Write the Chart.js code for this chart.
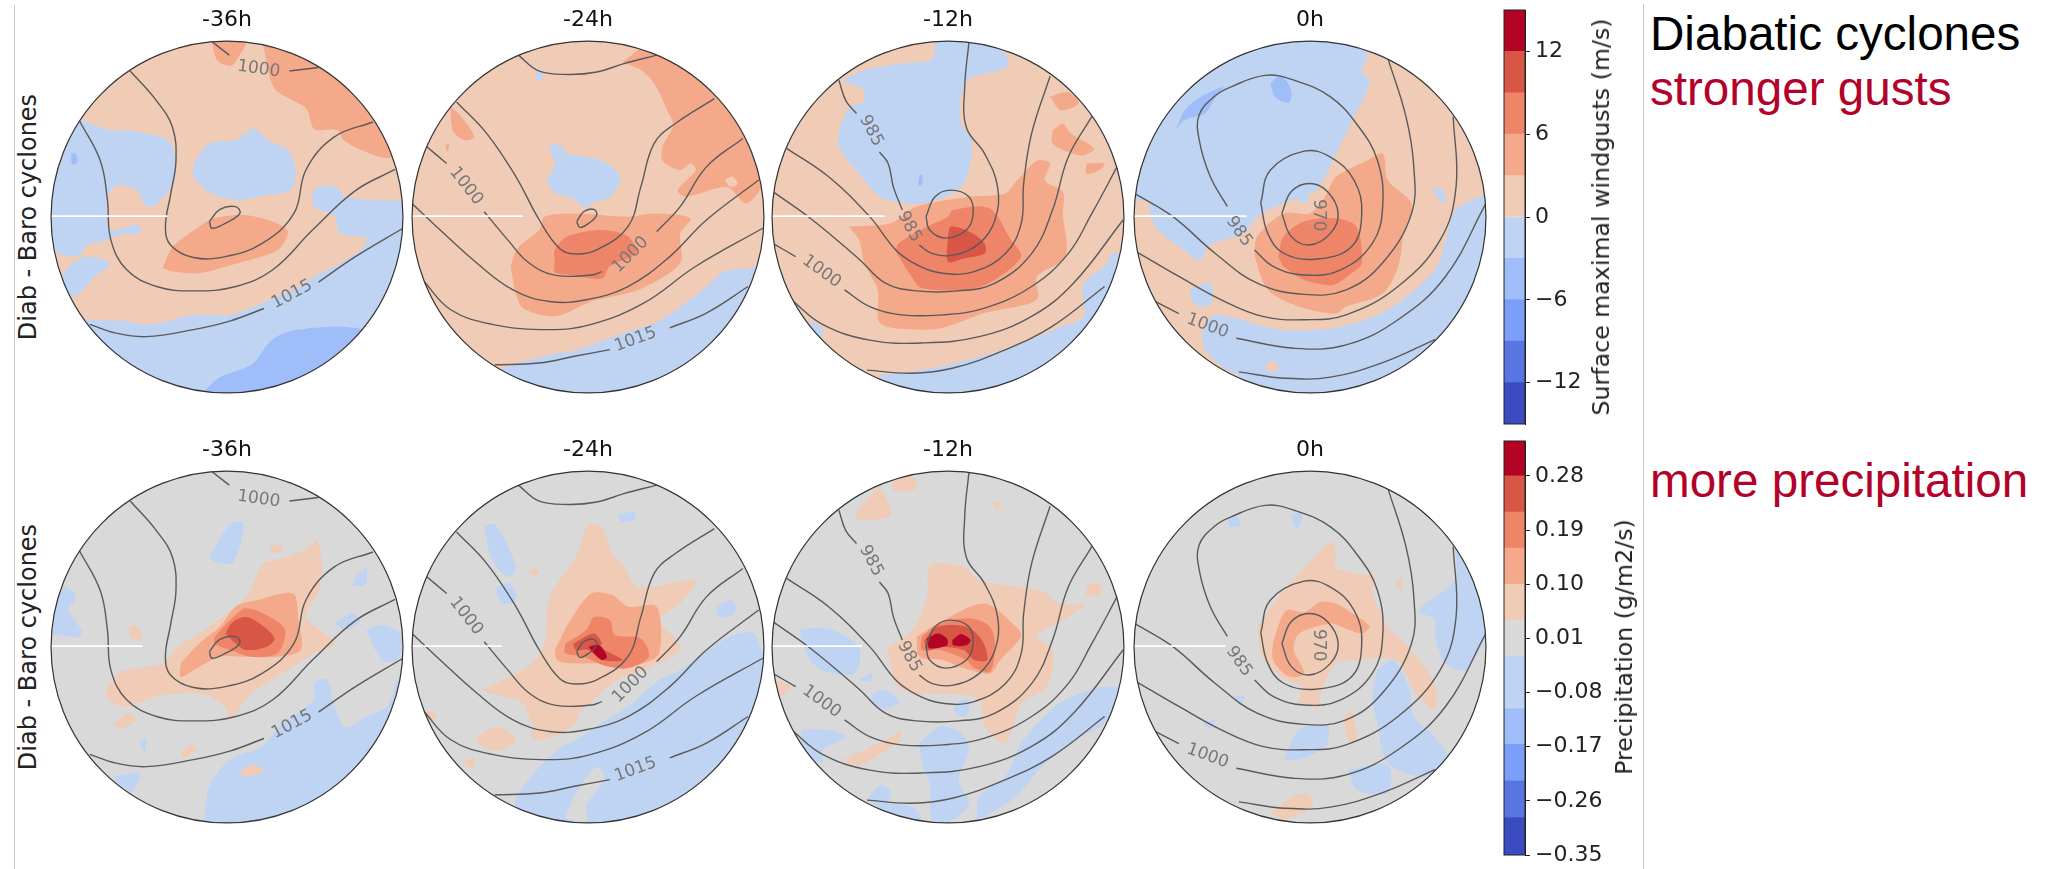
<!DOCTYPE html>
<html>
<head>
<meta charset="utf-8">
<title>Diab - Baro cyclones</title>
<script src="https://cdn.jsdelivr.net/npm/chart.js@4/dist/chart.umd.js"></script>
<style>
  html, body { margin: 0; background: #fff; }
  body { position: relative; width: 2049px; height: 869px; overflow: hidden; font-family: "DejaVu Sans", sans-serif; }
  canvas { position: absolute; }
  .vrule { position: absolute; width: 1px; background: #c8c8c8; }
  .side { position: absolute; white-space: nowrap; color: #222; transform: translate(-50%, -50%) rotate(-90deg); }
  .note { position: absolute; left: 1650px; white-space: nowrap; font-family: "Liberation Sans", sans-serif; font-size: 47.6px; line-height: 1; color: #b2022a; }
</style>
</head>
<body>
<script>
// panel coordinates are percent of the map radius, centre = cyclone, flat x,y lists
const hours = ['-36h', '-24h', '-12h', '0h'];

const gustBounds = [-15, -12, -9, -6, -3, 0, 3, 6, 9, 12, 15];
const gustColors = ['#3b4cc0', '#5875e1', '#7b9ff9', '#9ebdf9', '#bfd3f3', '#f0ccb6', '#f5a98b', '#ee8468', '#d85646', '#b40426'];
const gustTicks = [-12, -6, 0, 6, 12];

const precipBounds = [-0.35, -0.288, -0.227, -0.166, -0.107, -0.02, 0.04, 0.10, 0.16, 0.22, 0.28, 0.338];
const precipColors = ['#3b4cc0', '#5875e1', '#7b9ff9', '#9ebdf9', '#bfd3f3', '#d9d9d9', '#f0ccb6', '#f5a98b', '#ee8468', '#d85646', '#b40426'];
const precipTicks = [-0.35, -0.26, -0.17, -0.08, 0.01, 0.10, 0.19, 0.28];

// sea level pressure contours, same in both rows
const isobars36 = [
  [-10,-2.6, -4,4.3, 4.9,5.9, 7.3,2.1, -1,-3.6, -8.5,-6.4, -10,-2.6],
  [-9,100, 1.3,92],
  [35.5,83, 52,85],
  [-55,83, -40,66, -31,51, -29,32, -32,13, -35,-5.5, -32,-16, -19,-23, -1,-22.5, 20,-15, 38,2, 45,27, 61,45.5, 83,54],
  [-84,55, -72,32, -68,10, -66,-13, -57,-30, -40,-39.5, -19,-42, 5,-39.5, 26,-30, 49,-7, 73,15, 95.5,27],
  [-78,-61, -63,-66, -46,-68, -19,-64, 2,-59, 21,-52],
  [52,-37, 73,-22.5, 100,-6.4]
];
const isobars24 = [
  [-6.4,-2.6, -2.5,3, 3.4,4.3, 4.9,1, 0.4,-3.6, -4.6,-5.9, -6.4,-2.6],
  [-39.6,92, -28,83, -11.4,81, 5,82.4, 20,87, 39,92],
  [-74.7,65.4, -57.5,47.4, -41,23, -27.7,-1.7, -16,-18, -7,-21, 5,-18.7, 22.7,-5.5, 30,17, 37.6,41.8, 49.5,53, 71.8,67.3],
  [-91.6,39.9, -80.3,30.4],
  [-59,3, -45.6,-13, -33.7,-26, -19,-33, 2,-33, 7.9,-31],
  [39,-8.3, 52.4,5.9, 67.3,28.5, 88,44.6],
  [-100,7.7, -84,-7.4, -63.4,-26, -42.6,-41.4, -21.8,-48, -1,-47, 22.7,-39.5, 46.5,-22.5, 67.3,-1.7, 97,21],
  [-94,-35.7, -78,-52.7, -54.5,-61, -21.8,-64, 1.9,-61, 31.6,-49, 61.3,-28, 99.3,-6.4],
  [-53,-84, -27.8,-83, -7,-79, 12.4,-75.4],
  [46.5,-63, 67.3,-54.6, 91,-39.5]
];
const isobars12 = [
  [-12.5,0.2, -7.4,11.5, 1.5,15.3, 11.9,11.5, 14.3,2, 10.4,-7.4, -1.5,-12, -10.4,-7.4, -12.5,0.2],
  [11.9,99.4, 9.5,74, 10.4,51, 20.8,36, 28.2,17, 26.7,-1.7, 17.8,-15, 3,-21.7, -8.9,-20.8, -16.3,-16],
  [-26,4, -31,17, -34,30.4, -39,37],
  [-52,58.8, -58,66, -62,77.7],
  [-91.7,39, -68,23, -44.5,0.2, -29.7,-18.7, -17.8,-27, -3,-32, 14.8,-31, 32.7,-20.8, 41.6,-3.6, 43,19, 47.5,47.4, 58,80],
  [-99.5,14.4, -77,-1.7, -50.5,-24, -35.6,-37.6, -17.8,-42, 6,-42, 26.7,-37.6, 47.5,-20.8, 59.4,4, 68.3,34, 81.7,57],
  [-99.5,-15, -86.6,-22.5],
  [-58.8,-41.4, -44.5,-50.9, -26.7,-55.6, -3,-55.6, 20.8,-51.8, 47.5,-39.5, 68.3,-20.8, 81.7,1.9, 96.5,29.3],
  [-89,-47, -71.3,-61, -44.5,-70, -14.9,-71.6, 17.8,-68, 47.5,-56.5, 71.3,-37.6, 99.5,-1.7],
  [-46,-87, -20.8,-88.8, 3,-85.8, 32.7,-75.4, 59.4,-62, 89,-39.5]
];
const isobars0 = [
  [-16,2, -10.7,14.3, -0.3,19, 10,14.3, 16,2, 11.6,-9.3, -0.3,-15.9, -10.7,-11, -16,2],
  [-28,8, -22.6,26.6, -3.3,37.4, 11.6,34, 25,21, 29.4,2, 23.5,-17, 2.7,-24, -15,-20.6, -24,-9.3, -28,8],
  [-47,6, -56.7,23, -63,44, -63,58, -53.7,69, -44.8,74, -25.5,80.5, -9,77.7, 11.6,68.3, 26.4,53, 38.3,32.3, 41.3,5.9, 35.4,-15, 17.5,-30, -3.3,-33, -21,-28, -31.5,-18.7],
  [-99,13, -77.9,0.2, -54,-20.6, -30,-37.6, -3.3,-44, 20.5,-41.4, 41.3,-26, 57.7,2, 59,28.5, 54.6,56.8, 44.3,90],
  [-99,-19.5, -74.5,-33.8, -50.7,-47, -27,-56.5, -3.3,-58.4, 20.5,-55.6, 50,-39.5, 74,-13, 83,17, 81.4,57],
  [-92.7,-45.5, -74.5,-54.9],
  [-41.9,-68.9, -9.2,-74.6, 20.5,-72.7, 50,-58.4, 77,-33.8, 100,7.7],
  [-40.4,-88, -15,-91.6, 11.6,-91, 41.3,-82.8, 71,-69.7]
];

// contour labels: text, x, y, rotation in degrees
const labels36 = [['1000',18,84,8], ['1015',37,-44,-28]];
const labels24 = [['1000',-69.3,17.6,52], ['1000',24.2,-21.5,-45], ['1015',27,-69.7,-20]];
const labels12 = [['985',-22,-5.5,62], ['985',-43.7,49,62], ['1000',-71.9,-31,36]];
const labels0 = [['970',5,1,90], ['985',-40.4,-8.3,55], ['1000',-58.2,-62,20]];

// white stub along the left of each map, ends at this x
const stubTop = [-34, -37, -36, -36];
const stubBottom = [-48, -49, -49, -48];

// filled patches: representative value, outline. Value picks the colour bin.
const gust36 = [
  [-1.5, [-79.7,-58.4, -60.4,-59, -42.6,-61, -18.9,-55.6, 1.9,-55.6, 19.7,-49, 37.6,-41.4, 49.5,-33.8, 64.3,-26.3, 76.2,-18.7, 79,-12, 64.3,-9.3, 61.3,0.2, 49.5,5.9, 49.5,15.3, 61.3,17.6, 67.3,11.5, 85,9.6, 100,7.7, 115,-20, 90,-85, 0,-112, -85,-85]],
  [-1.5, [-84,56, -69,50, -51.5,48.4, -33.7,43.7, -29,32.3, -30.7,19, -39.6,7.7, -45.6,5.9, -51.5,15.3, -62,18, -68,11.5, -68,0.2, -66.4,-7.4, -50,-4.5, -50,-9.3, -62,-10, -68,-13, -79.7,-15.9, -82.7,-20.6, -87,-22.5, -97.5,-19.7, -112,0, -112,30, -97,62]],
  [-1.5, [-90,-28, -80,-22.5, -66.4,-26.3, -75.3,-34, -84,-43.5, -90,-45.5, -93.6,-34]],
  [-1.5, [-18.9,30.4, -10,41.8, 4.9,43.7, 15.3,50.3, 22.7,43.7, 34.6,38, 39,26.6, 36,15.3, 16.8,11.5, 4.9,9.6, -10,14, -18.9,23]],
  [-4.5, [-13,-99, -4,-91, 14,-83.8, 25.7,-69.7, 40.5,-64, 73,-63, 92,-72, 30,-112, -13,-112]],
  [-4.5, [-88.5,36, -86,36, -85,31, -88,30]],
  [4.5, [21,95.6, 27,73, 45,61.6, 49.5,50, 62.8,49.3, 66,44, 72,40, 84,35, 93,34, 110,50, 70,102, 21,106]],
  [4.5, [-9,101, -5.5,89, 2,86, 6,90, 10.8,101]],
  [4.5, [-36.7,-29, -30.7,-16.8, -15.9,-5.5, -7,-0.7, 10.8,1, 25.7,-2.6, 34.6,-8.3, 30,-17.9, 19.7,-22.5, 1.9,-27.4, -15.9,-32, -30.7,-31]]
];
const gust24 = [
  [-1.5, [-48.6,-86, -33.7,-81.4, -19,-77.7, -7,-75.8, 19.7,-66, 37.6,-60.4, 52.4,-51, 67.3,-39.6, 77.7,-31, 93,-29, 100,-26, 120,-40, 60,-112, -48,-112]],
  [-1.5, [-23.3,20.9, -18.9,30.4, -21.8,39.9, -15.9,40.8, -11.4,36, 2,34, 13.8,28.5, 18.3,21, 12.4,11.5, 2,7.7, -1,5, -10,11.5, -18.9,13.4]],
  [-1.5, [-29.5,83, -26.5,83, -26,78, -29,78]],
  [4.5, [19.7,88, 30.4,83.4, 37.6,75.8, 45,60.6, 48.3,52, 42.4,40, 42.4,32, 52.4,26.6, 58.3,30.4, 61.3,26.6, 51,15.3, 55.3,11.5, 79,17, 89.6,7.7, 97.5,15, 112,40, 102,72, 60,97, 33,97]],
  [1.5, [77.7,21, 82,23, 85,19, 81,17]],
  [4.5, [-78,62.6, -72,57, -64.6,45.5, -70.5,43.7, -76.5,48.4, -78,58]],
  [4.5, [-81,41, -79,41, -80,37]],
  [4.5, [-44,-28, -40,-17.8, -27.7,-7.4, -24.8,0.2, -7,2, 22.7,0.2, 37.6,2, 58.3,-0.7, 52.4,-9.3, 52.4,-26.3, 28.7,-41.4, 2,-48, -18.9,-56.5, -36.7,-52, -41,-43.5]],
  [7.5, [-18.9,-25.3, -18.9,-18.7, -11.4,-11, 7.9,-7.4, 22.7,-11, 27.2,-20.6, 12.4,-28, 7.9,-35, -10,-33, -18.9,-31.4]]
];
const gust12 = [
  [-1.5, [-7.4,102, -8.9,90, -23.8,87.5, -46,84, -59.4,77.6, -49,73, -47.5,66, -56.4,61.6, -62.4,41.8, -47.5,21, -38.6,11.5, -23.8,7.7, -8.9,8.7, 7.4,17, 11.9,26.6, 13.4,43.7, 7.4,53, 7.4,68, 11.9,78.6, 32.7,84.6, 34,91, 17.8,102]],
  [-4.5, [-16,24, -14.5,24, -15,18, -17,18]],
  [-1.5, [-38.6,-90, -8.9,-86, 17.8,-79.5, 38.6,-73, 65.3,-62, 77,-56.5, 77,-38, 89,-28, 94.5,-20, 115,-40, 60,-112, -38,-112]],
  [-1.5, [-78.7,-59, -71.3,-63, -72,-70, -76,-66]],
  [4.5, [-56.4,-5.5, -32.7,-3.6, -17.8,5.9, 11.9,11.5, 32.7,13.4, 38.6,20, 50.5,32, 58,30.4, 55,20.9, 65.3,14.3, 65.3,2, 66.8,-22.5, 50.5,-34, 50.5,-47, 20.8,-54.6, -3,-63, -17.8,-64, -38.6,-60.4, -40,-41.4, -47.5,-26.3, -50.5,-13]],
  [4.5, [58,68.5, 68.3,71, 74.3,64.6, 64,60.7]],
  [4.5, [59.4,49.3, 65.3,53, 69.8,47.5, 83,38.9, 77,35, 68.3,37, 59.4,41.8]],
  [4.5, [78.7,30.4, 89,30.4, 86,26.6, 78.7,24.7]],
  [7.5, [-29.7,-19.8, -28.2,-15, -11.9,-5.5, 0,0.2, 3,4, 23.8,4.9, 35.6,-12.8, 41.6,-22.5, 26.7,-35.7, 11.9,-41.4, -14.9,-40.4, -20.8,-33.8]],
  [10.5, [0,-11, 1.5,-5.5, 11.9,-8.3, 20.8,-15, 20.8,-20.8, 8.9,-23.6, 0,-25.5]]
];
const gust0 = [
  [-1.5, [32.4,90, 29.4,83, 33.9,77, 23.5,53.6, 16,38.6, 10,25.5, 2.7,14, -0.3,13.4, -1.8,7.9, -7.7,9.6, -15,7.9, -30,0.2, -37.4,-9.3, -56.7,-15.9, -62.7,-24.4, -74.5,-16.8, -86.4,-7.4, -90.8,2, -92.3,9.6, -98,9.6, -115,30, -100,72, -50,106, 32,106]],
  [-1.5, [100,13.4, 82.9,4, 77,-13, 71,-30, 44.3,-52.6, 14.6,-63, -18,-64, -53.7,-55.6, -61,-64, -59.7,-75.4, -47.8,-86.7, -40.4,-90.5, -30,-112, 60,-112, 120,-40, 115,15]],
  [-4.5, [-76,49.9, -71.5,60.3, -62.7,67.8, -49.3,74, -53.7,68, -59.7,58.8, -71.5,55]],
  [-4.5, [-22.6,75.8, -16.6,80.5, -10.7,71.9, -12,65, -19.6,68]],
  [1.5, [-25.5,-84, -19.6,-82, -18,-86.7, -23.5,-87.7]],
  [-1.5, [69.5,17, 75.4,15.4, 77,7.7, 72.5,10.6]],
  [-1.5, [-68.6,-41.4, -56.7,-37.6, -56,-49, -62.7,-51, -67.2,-47]],
  [4.5, [-31.5,-22.5, -30,-11, -15,2, -0.3,2, 8.6,11.5, 14.6,22.7, 32.4,32, 41.3,36, 44.3,20.8, 57.7,7.7, 53.2,-9.3, 50.2,-28, 41.3,-43.5, 20.5,-51, 14.6,-54.9, -6.2,-51, -24,-41.4]],
  [7.5, [-18,-22.5, -15,-11, -3.3,-2.6, 14.6,-0.7, 26.4,-5.5, 29.4,-26.3, 23.5,-32, 13,-38.6, -3.3,-35.7, -15,-28]]
];

const precip36 = [
  [-0.06, [-13,-99, -10,-79, 1.9,-64, 19.7,-56.5, 31.6,-43.5, 49.5,-30, 49.5,-20.6, 57,-18.7, 61.3,-34, 67.3,-45.5, 79,-39.6, 91,-34, 98.5,-17, 115,-20, 80,-92, -13,-112]],
  [0.07, [8,-70, 14,-67, 21,-70, 14,-73, 8,-73]],
  [-0.06, [-99,23, -91.7,34, -85.7,28.5, -90,21, -82.7,9.6, -84,5.9, -99,7.7, -112,15]],
  [-0.06, [-65,-73.5, -50,-72, -54,-82, -62,-78]],
  [-0.06, [-50,-54, -46,-52, -47,-60]],
  [-0.06, [-10,51, 1.9,70, 9.4,70, 3.4,48, -7,48.4]],
  [-0.06, [61.3,13.4, 70,19, 76,15.3, 67.3,9.6]],
  [-0.06, [73,40, 79,45, 79,36, 72,35]],
  [-0.06, [79,9.6, 88,12.5, 98.5,7.7, 97,-7.4, 88,-7.4]],
  [0.07, [-67.9,-22.5, -60,-14, -36.7,-9.3, -28,0.2, -10,11.5, 10.8,28.5, 21,47.4, 34.6,51, 46.5,56.8, 51,60.6, 54,47.4, 52.4,32.3, 45,17, 61.3,2, 49.5,-3.6, 40.6,-9.3, 25.7,-18.7, 13.8,-26.3, 1.9,-41.4, -1,-33.8, -15.9,-26.3, -39.6,-28, -57.5,-33.8, -67.9,-30]],
  [0.07, [-65,-44, -56,-37.6, -51.5,-41.4, -59,-46]],
  [0.07, [-26,-60, -20,-55.6, -17,-58.4, -25,-63]],
  [0.07, [24,57.8, 31.6,57.8, 30,54, 25.7,54]],
  [0.07, [-56,11.5, -50,11.5, -48.6,4, -54.5,5]],
  [0.13, [-26.3,-9.3, -15.9,2, -4,11.5, 4.9,23, 16.8,26.6, 37.6,30.4, 40.6,15.3, 42,-1.7, 28.7,-5.5, 7.9,-5.5, -4,-5.5, -18.9,-13, -26.3,-17]],
  [0.19, [-7,5.9, 1.9,15.3, 10.8,22, 22.7,18, 33,9.6, 28.7,-3.6, 13.8,-5.5, 1.9,-1.7, -7,2]],
  [0.25, [-1,7.7, 3.4,14.3, 10.8,17, 19.7,12.5, 27,4.9, 22.7,0.2, 10.8,-1.7, 4.9,2]]
];
const precip24 = [
  [-0.06, [-41,-85.5, -30.8,-71.6, -14.4,-56.5, -7,-52.7, 7.9,-43.3, 22.7,-33.8, 40.5,-18.7, 52.4,-13, 80.7,5.9, 94,7.7, 100,-5.5, 115,-40, 70,-104, -41,-112]],
  [0.01, [-13,-97.5, -7,-83, 4.9,-68, 9.4,-75, -1,-90, -1,-99]],
  [-0.06, [-59,68, -53,70, -41,45.5, -45.6,40, -54.5,49.3]],
  [-0.06, [-53,34, -44,36, -41,26.6, -48.6,24.7]],
  [-0.06, [16.8,74.8, 25.7,76.7, 27,73, 19.7,71]],
  [-0.06, [73,22.9, 82,26.6, 83.6,19, 74.7,17]],
  [0.07, [-60.4,-24.4, -33.7,-11, -24.8,2, -21.8,28.5, -7,51, 0.4,70, 7.9,68, 13.8,53, 19.7,47.4, 28.7,34, 61.3,38, 52.4,24.7, 40.5,15.3, 52.4,0.2, 37.6,-11, 16.8,-18.7, -1,-33.8, -10,-41.4, -30.8,-43.3, -36.7,-32, -48.6,-28]],
  [0.07, [-63.4,-50.9, -51.5,-45.2, -41,-52.7, -48.6,-58.4, -60.4,-56.5]],
  [0.07, [-30.8,-43.3, -15.9,-37.6, -10,-28, -7,-30, -7,-43.3, -24.8,-52.7, -32,-51]],
  [0.07, [-96,-35, -85.7,-38.6, -90,-43.3]],
  [0.07, [-71,-65, -65,-63, -65,-68.8, -69.3,-67.7]],
  [0.07, [-33.7,43.7, -27.8,43.7, -30.8,39.9]],
  [0.13, [-18.9,-1.7, -9.9,15.3, 1.9,30.4, 13.8,29.5, 22.7,22.9, 39,22.9, 40.5,-3.6, 31.6,-9.3, 19.7,-11, 4.9,-9.3, -10,-9.3, -17.4,-7.4]],
  [0.19, [-12.9,2, -1,9.6, 3.4,17, 12.4,15.3, 15.3,6.8, 30,4.9, 34.6,-5.5, 22.7,-12, 10.8,-11, -2.5,-5.5, -12.9,-3.6]],
  [0.25, [-8.4,2, 3.4,7.7, 7.9,2, 6.4,0.2, 19.7,-7.4, 7.9,-7.4, 0.4,-1.7, -7,-1.7]],
  [0.31, [0.4,0.2, 6.4,1, 10.8,-5.5, 7.9,-7.4, 3.4,-3.6]]
];
const precip12 = [
  [-0.06, [-84.6,10, -69,10.6, -50.5,0.2, -53.5,-15, -72,-13, -80,-4.5]],
  [0.07, [-99.5,-18.7, -89,-22.5, -96.5,-28]],
  [-0.06, [-16.3,-54.6, -4.5,-45, 7.4,-48.8, 11.9,-58.4, 5.9,-75.4, 11.9,-88.6, 3,-98, -8.9,-99, -10.4,-77.6, -14.9,-66]],
  [-0.06, [16.3,-98, 17.8,-85, 32.7,-73.5, 41.6,-54.6, 60.9,-33.8, 71.3,-28, 89,-22.5, 97.5,-24.4, 89,-43.5, 71.3,-53, 53.5,-68, 38.6,-85, 20.8,-96.5]],
  [-0.06, [-83,-47, -68.3,-47, -58,-51, -71.3,-58.6, -71.3,-66, -83,-58.6]],
  [-0.06, [-46,-87, -38.6,-78.6, -32.7,-82, -35.6,-90.7]],
  [-0.06, [-43,-88.8, -20.8,-90.7, -14.9,-99.4, -29.7,-96.5]],
  [-0.06, [-43,-26.3, -35.6,-24.4, -28,-31, -35.6,-35, -43,-32]],
  [-0.06, [3,-32, 11.9,-30, 10.4,-39.5, 4.5,-37.6]],
  [-0.06, [-50.5,-18.7, -43,-15, -44.5,-19.7]],
  [0.07, [-34.7,-0.7, -21,8.7, -11.9,28.5, -10.4,46.5, 8.9,45.5, 17.8,38, 41.6,34, 53.5,32, 62.4,24.7, 77,23.6, 65.3,15.3, 50.5,5.9, 59.4,-1.7, 56.4,-22.5, 41.6,-32, 32.7,-54.6, 20.8,-45, 17.8,-30, -3,-26.3, -20.8,-26.3, -29.7,-20.8, -32.7,-9.3]],
  [0.07, [-59.4,-64, -35.6,-52.7, -26.7,-48, -28.2,-53.6, -47.5,-66, -54.9,-67]],
  [0.07, [-52,77, -43,87, -38.6,90.7, -32.7,74.6, -52,72.8]],
  [0.07, [-31,96, -20.8,97.6, -17.8,90, -31,89]],
  [0.07, [25,82, 31,82, 28,78]],
  [0.07, [78.7,34, 84.6,37, 87.6,30.4, 78.7,29.5]],
  [0.13, [-17.8,5.9, -5.9,13.4, 20.8,24.7, 38.6,11.5, 41.6,5.9, 29.7,-7.4, 23.8,-15, 8.9,-12, -3,-7.4, -16.3,-5.5]],
  [0.19, [-14.9,5.9, -5.9,12.5, 11.9,16.3, 23.8,11.5, 26.7,0.2, 23.8,-14, 14.9,-12, 10.4,-7.4, -4.5,-1.7, -14.9,-1.7]],
  [0.25, [-13.4,4, -5.9,11.5, 10.4,11.5, 19.3,4, 22.3,-7.4, 14.9,-7.4, 8.9,-1.7, -4.5,0.2, -11.9,-1.7]],
  [0.31, [-11.9,4.9, -5.9,7.7, -0.6,4.9, -0.6,1, -10.4,-0.7]],
  [0.31, [2.4,3.9, 7.4,7.4, 12.8,3.9, 10.4,1, 3,1]]
];
const precip0 = [
  [-0.06, [82.3,59, 82,38, 62,20.9, 71,15.3, 71,5.9, 77,-9.3, 88.8,-13, 100,5.9, 110,30, 95,65]],
  [-0.06, [38.3,-13, 47.2,-7.4, 56,-22.5, 59,-39.5, 70.7,-50.9, 79.9,-66, 65,-73.5, 44.3,-66, 38.3,-43.5, 35.4,-28]],
  [-0.06, [-15,-64, -6.2,-47, 10,-45, 8.6,-56.5, -6.2,-64]],
  [-0.06, [22,-69.7, 44.3,-67, 44.3,-83, 26.4,-81]],
  [-0.06, [-46.3,73.5, -40.4,73.5, -40.4,68.8, -46.3,68.8]],
  [-0.06, [-10.7,75.8, -4.8,75.8, -6.2,68, -9.2,69]],
  [-0.06, [-61,-43.5, -54,-41.6, -57,-46.4]],
  [-0.06, [-43,-28, -37,-28, -40,-33]],
  [0.07, [-30,11.5, -15,32.3, 2.7,51.2, 11.6,59.9, 14.6,55, 14.6,45.5, 26.4,41.8, 36.8,39.9, 35.4,32.3, 44.3,11.5, 56,0.2, 70.7,-20.6, 70.7,-35.7, 60.3,-26.3, 48.5,-7.4, 26.4,-7.4, 14.6,-9.3, 5.6,-28, 5.6,-34, -6.2,-32, -4.7,-22.5, -15,-18, -27,-5.5]],
  [0.07, [-22.6,-94, -9.2,-85, -0.3,-84, 1.2,-90.7, -15,-98]],
  [0.07, [19,-41.4, 23.5,-35.7, 26.4,-52.7, 22,-53.6]],
  [0.07, [48.7,36, 51.7,39.9, 51.7,32]],
  [0.13, [-21,3, -13.7,20.6, -3.3,19.7, 5.6,25.5, 14.6,24.7, 26.4,17.6, 33.9,11.5, 29.4,7.7, 17.5,11.5, 11.6,13.4, -6.2,7.7, -9.2,-1.7, -3.3,-15, -12,-16.8, -21,-7.4]]
];

const isobars = [isobars36, isobars24, isobars12, isobars0];
const contourLabels = [labels36, labels24, labels12, labels0];
const gustPatches = [gust36, gust24, gust12, gust0];
const precipPatches = [precip36, precip24, precip12, precip0];

function colorOf(value, bounds, colors) {
  for (let i = 0; i < colors.length; i++) {
    if (value >= bounds[i] && value < bounds[i + 1]) return colors[i];
  }
  return colors[colors.length - 1];
}

function toPoints(flat) {
  const pts = [];
  for (let i = 0; i < flat.length; i += 2) pts.push({ x: flat[i], y: flat[i + 1] });
  return pts;
}

function addCanvas(left, top, w, h) {
  const c = document.createElement('canvas');
  c.width = w;
  c.height = h;
  c.style.left = left + 'px';
  c.style.top = top + 'px';
  c.style.width = w + 'px';
  c.style.height = h + 'px';
  document.body.appendChild(c);
  return c.getContext('2d');
}

// disk background, round clip, rim and contour labels for one map
const diskPlugin = {
  id: 'disk',
  beforeDatasetsDraw(chart, args, opts) {
    const { ctx, scales } = chart;
    const cx = scales.x.getPixelForValue(0), cy = scales.y.getPixelForValue(0);
    const r = scales.x.getPixelForValue(100) - cx;
    ctx.save();
    ctx.beginPath();
    ctx.arc(cx, cy, r, 0, Math.PI * 2);
    ctx.fillStyle = opts.base;
    ctx.fill();
    ctx.clip();
  },
  afterDatasetsDraw(chart, args, opts) {
    const { ctx, scales } = chart;
    const cx = scales.x.getPixelForValue(0), cy = scales.y.getPixelForValue(0);
    const r = scales.x.getPixelForValue(100) - cx;
    ctx.restore();
    ctx.beginPath();
    ctx.arc(cx, cy, r, 0, Math.PI * 2);
    ctx.strokeStyle = '#333';
    ctx.lineWidth = 1.2;
    ctx.stroke();
    ctx.font = '17px "DejaVu Sans"';
    ctx.fillStyle = '#777';
    ctx.textAlign = 'center';
    ctx.textBaseline = 'middle';
    opts.labels.forEach(l => {
      ctx.save();
      ctx.translate(scales.x.getPixelForValue(l[1]), scales.y.getPixelForValue(l[2]));
      ctx.rotate(l[3] * Math.PI / 180);
      ctx.fillText(l[0], 0, 0);
      ctx.restore();
    });
  }
};

function drawMap(i, top, patches, bounds, colors, baseValue, stubEnd) {
  const lefts = [44, 405, 765, 1127];
  const datasets = [];
  patches.forEach(p => {
    const pts = toPoints(p[1]);
    pts.push(pts[0]);
    datasets.push({
      data: pts,
      showLine: true,
      fill: 'shape',
      backgroundColor: colorOf(p[0], bounds, colors),
      borderWidth: 0,
      pointRadius: 0,
      tension: 0.3
    });
  });
  isobars[i].forEach(line => {
    datasets.push({
      data: toPoints(line),
      showLine: true,
      fill: false,
      borderColor: '#5a5a5a',
      borderWidth: 1.4,
      pointRadius: 0,
      tension: 0.4
    });
  });
  datasets.push({
    data: [{ x: -100, y: 0.5 }, { x: stubEnd, y: 0.5 }],
    showLine: true,
    fill: false,
    borderColor: '#ffffff',
    borderWidth: 1.6,
    pointRadius: 0
  });
  datasets.forEach((d, n) => { d.order = -n; });
  new Chart(addCanvas(lefts[i], top, 366, 396), {
    type: 'scatter',
    data: { datasets },
    options: {
      responsive: false,
      animation: false,
      layout: { padding: 0 },
      scales: {
        x: { display: false, min: -104, max: 104 },
        y: { display: false, min: -104, max: 104 }
      },
      plugins: {
        legend: { display: false },
        tooltip: { enabled: false },
        title: {
          display: true,
          text: hours[i],
          color: '#111',
          font: { family: '"DejaVu Sans"', size: 22, weight: 'normal', lineHeight: 1 },
          padding: { top: 5, bottom: 3 }
        },
        disk: { base: colorOf(baseValue, bounds, colors), labels: contourLabels[i] }
      }
    },
    plugins: [diskPlugin]
  });
}

function drawColorbar(top, height, padTop, padBottom, bounds, colors, ticks, digits) {
  const datasets = colors.map((c, i) => ({
    data: [[bounds[i], bounds[i + 1]]],
    backgroundColor: c,
    borderWidth: 0,
    barPercentage: 1,
    categoryPercentage: 1
  }));
  new Chart(addCanvas(1500, top, 120, height), {
    type: 'bar',
    data: { labels: [''], datasets },
    options: {
      responsive: false,
      animation: false,
      layout: { padding: { left: 4, top: padTop, bottom: padBottom, right: 0 }, autoPadding: false },
      scales: {
        x: { display: false, stacked: true },
        y: {
          position: 'right',
          min: bounds[0],
          max: bounds[bounds.length - 1],
          // tick labels stay inside the bar height, no extra room needed for them
          afterFit(s) { s.width = 95; s.paddingTop = 0; s.paddingBottom = 0; },
          afterBuildTicks(s) { s.ticks = ticks.map(v => ({ value: v })); },
          border: { color: '#222', width: 1 },
          grid: { drawOnChartArea: false, color: '#222', tickLength: 5 },
          ticks: {
            color: '#222',
            padding: 5,
            autoSkip: false,
            font: { family: '"DejaVu Sans"', size: 22 },
            callback: v => v.toFixed(digits).replace('-', '\u2212')
          }
        }
      },
      plugins: { legend: { display: false }, tooltip: { enabled: false } }
    },
    plugins: [{
      id: 'frame',
      afterDatasetsDraw(chart) {
        const a = chart.chartArea, ctx = chart.ctx;
        ctx.save();
        ctx.strokeStyle = '#222';
        ctx.lineWidth = 1;
        ctx.strokeRect(a.left, a.top, a.right - a.left, a.bottom - a.top);
        ctx.restore();
      }
    }]
  });
}

function addText(cls, text, css) {
  const d = document.createElement('div');
  d.className = cls;
  d.textContent = text;
  d.style.cssText = css;
  document.body.appendChild(d);
}

for (let i = 0; i < 4; i++) {
  drawMap(i, 4, gustPatches[i], gustBounds, gustColors, 1.5, stubTop[i]);
  drawMap(i, 434, precipPatches[i], precipBounds, precipColors, 0.01, stubBottom[i]);
}
drawColorbar(0, 434, 10, 10, gustBounds, gustColors, gustTicks, 0);
drawColorbar(430, 439, 11, 14, precipBounds, precipColors, precipTicks, 2);

addText('vrule', '', 'left:14px;top:5px;height:864px');
addText('vrule', '', 'left:1643px;top:4px;height:865px');
addText('side', 'Diab - Baro cyclones', 'left:28px;top:217px;font-size:24px');
addText('side', 'Diab - Baro cyclones', 'left:28px;top:647px;font-size:24px');
addText('side', 'Surface maximal windgusts (m/s)', 'left:1601px;top:217px;font-size:23.7px');
addText('side', 'Precipitation (g/m2/s)', 'left:1624px;top:647px;font-size:23.7px');
addText('note', 'Diabatic cyclones', 'top:10px;color:#000');
addText('note', 'stronger gusts', 'top:65px');
addText('note', 'more precipitation', 'top:457px');
</script>
</body>
</html>
